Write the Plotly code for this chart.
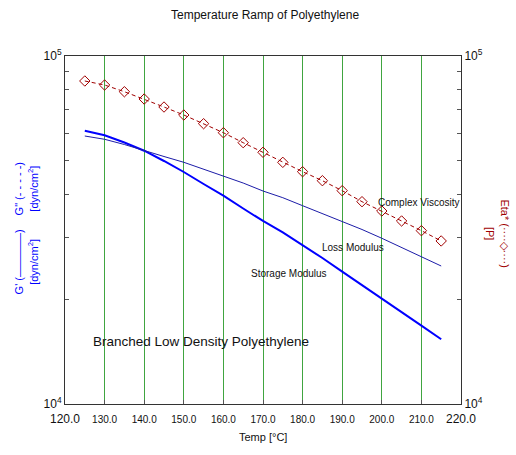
import plotly.graph_objects as go

temps = [125, 130, 135, 140, 145, 150, 155, 160, 165, 170, 175, 180, 185, 190, 195, 200, 205, 210, 215]
storage_modulus = [61000, 59170, 56410, 53430, 49920, 46420, 42870, 39680, 36460, 33570,
                   31110, 28630, 26270, 24000, 21980, 20130, 18380, 16790, 15350]
loss_modulus = [58900, 57630, 55680, 53430, 51430, 49490, 47350, 45300, 43150, 40930,
                39160, 37140, 35270, 33570, 31730, 29940, 28160, 26500, 24920]
complex_viscosity = [84760, 82540, 78950, 75230, 71350, 67680, 63900, 60200, 56350, 52880,
                     49480, 46510, 43820, 41020, 38140, 35860, 33570, 31480, 29410]

x_tickvals = [120, 130, 140, 150, 160, 170, 180, 190, 200, 210, 220]
x_ticktext = ['<span style="font-size:12px">120.0</span>', '130.0', '140.0', '150.0', '160.0',
              '170.0', '180.0', '190.0', '200.0', '210.0', '<span style="font-size:12px">220.0</span>']
y_tickvals = [10000, 20000, 30000, 40000, 50000, 60000, 70000, 80000, 90000, 100000]
y_ticktext = ['10<sup>4</sup>', '', '', '', '', '', '', '', '', '10<sup>5</sup>']

FONT = "Liberation Sans, Arial, sans-serif"
L, R, T, B = 65.5, 460.5, 56, 404


def px(x):
    return (x - L) / (R - L)


def py(y):
    return (B - y) / (B - T)


fig = go.Figure()
fig.add_trace(go.Scatter(x=temps, y=storage_modulus, mode="lines",
                         line=dict(color="#0000ff", width=2), yaxis="y", showlegend=False))
fig.add_trace(go.Scatter(x=temps, y=loss_modulus, mode="lines",
                         line=dict(color="#1c1ca8", width=1), yaxis="y", showlegend=False))
fig.add_trace(go.Scatter(x=temps, y=complex_viscosity, mode="lines+markers",
                         line=dict(color="#a00000", width=1, dash="4px,3px"),
                         marker=dict(symbol="diamond-open", size=8, color="#a00000",
                                     line=dict(color="#a00000", width=1)),
                         yaxis="y2", showlegend=False))

axis_common = dict(showline=True, linecolor="#333333", linewidth=1, ticks="inside",
                   ticklen=4, tickcolor="#555555")
yfont = dict(family=FONT, size=12, color="#111")

fig.update_layout(
    width=516, height=455,
    margin=dict(l=65, r=55, t=56, b=51),
    paper_bgcolor="white", plot_bgcolor="white",
    font=dict(family=FONT, color="#111"),
    xaxis=dict(range=[120, 220], tickvals=x_tickvals, ticktext=x_ticktext,
               showgrid=True, gridcolor="#40a540", gridwidth=1, zeroline=False,
               mirror=True, ticklabelstandoff=6,
               tickfont=dict(family=FONT, size=10, color="#111"), **axis_common),
    yaxis=dict(type="log", range=[4, 5], tickvals=y_tickvals, ticktext=y_ticktext,
               showgrid=False, zeroline=False, tickfont=yfont, **axis_common),
    yaxis2=dict(type="log", range=[4, 5], tickvals=y_tickvals, ticktext=y_ticktext,
                overlaying="y", side="right", showgrid=False, zeroline=False,
                tickfont=yfont, **axis_common),
)

ann = []
ann.append(dict(text="Temperature Ramp of Polyethylene", x=px(265), y=py(15), font=dict(size=12)))
ann.append(dict(text="Temp [°C]", x=px(263), y=py(437), font=dict(size=11)))
ann.append(dict(text="Branched Low Density Polyethylene", x=px(201), y=py(341), font=dict(size=13.5)))
ann.append(dict(text="Complex Viscosity", x=px(419), y=py(202), font=dict(size=10)))
ann.append(dict(text="Loss Modulus", x=px(353), y=py(247), font=dict(size=10)))
ann.append(dict(text="Storage Modulus", x=px(289), y=py(273), font=dict(size=10)))
ann.append(dict(text="G' (————)<br>[dyn/cm<sup>2</sup>]", x=px(27), y=py(262), textangle=-90,
                font=dict(size=11, color="#0000ff")))
ann.append(dict(text="G\" (- - - - -)<br>[dyn/cm<sup>2</sup>]", x=px(27), y=py(189), textangle=-90,
                font=dict(size=11, color="#0000ff")))
ann.append(dict(text="Eta* (····◇····)<br>[P]", x=px(497), y=py(233), textangle=90,
                font=dict(size=11, color="#a00000")))

for a in ann:
    a.update(xref="paper", yref="paper", showarrow=False, xanchor="center", yanchor="middle")
    a["font"] = dict(family=FONT, color=a["font"].get("color", "#111"), size=a["font"]["size"])
fig.update_layout(annotations=ann)

fig.write_html("out.html")
